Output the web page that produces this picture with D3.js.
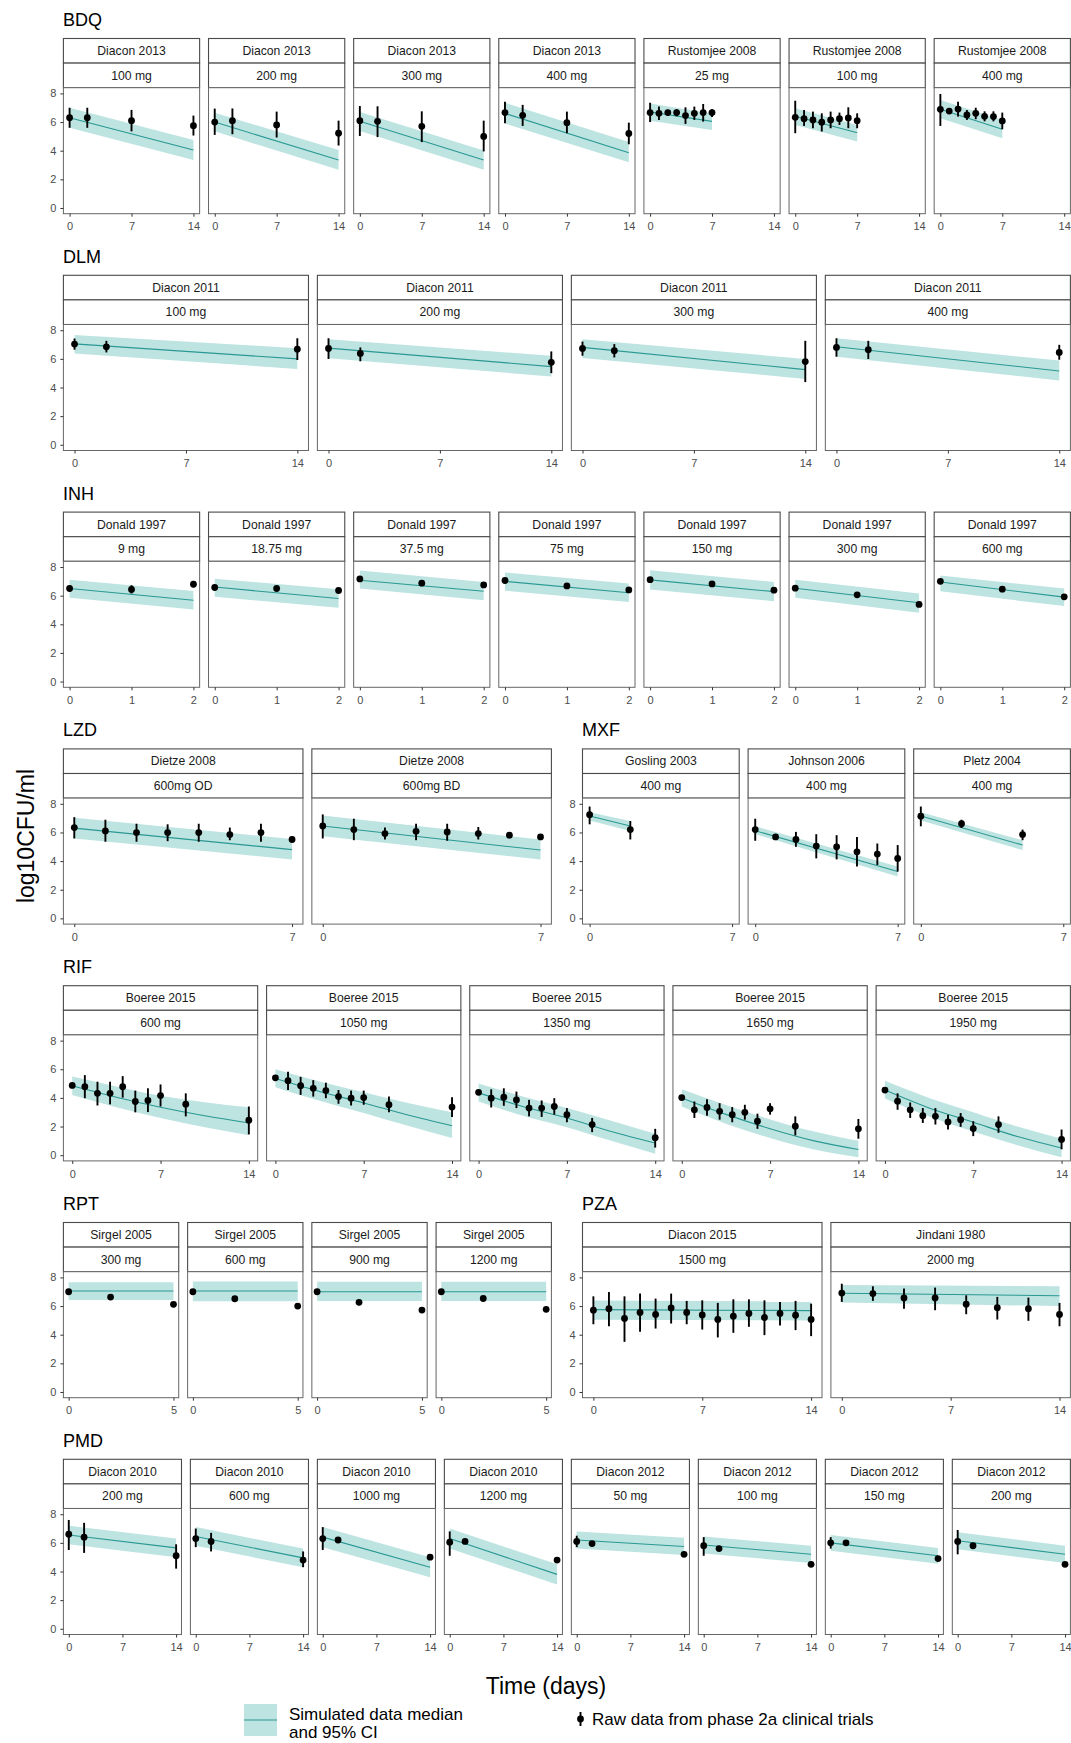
<!DOCTYPE html>
<html>
<head>
<meta charset="utf-8">
<script src="https://cdn.jsdelivr.net/npm/d3@7"></script>
<style>
  body { margin: 0; background: #fff; }
  #main { width: 1071px; height: 1743px; }
  text { font-family: "Liberation Sans", Arial, Helvetica, sans-serif; }
</style>
</head>
<body>
<div id="main"></div>
<script>
// sim rows: [day, median, lower 95%, upper 95%]
// obs rows: [day, mean, lower, upper]

const bdqStudies = ["Diacon 2013", "Diacon 2013", "Diacon 2013", "Diacon 2013", "Rustomjee 2008", "Rustomjee 2008", "Rustomjee 2008"];
const bdqDoses = ["100 mg", "200 mg", "300 mg", "400 mg", "25 mg", "100 mg", "400 mg"];
const bdqTicks = [0, 7, 14];
const bdqSim = [
  [[0, 6.3, 5.6, 7.0], [14, 4.05, 3.35, 4.75]],
  [[0, 6.0, 5.35, 6.65], [14, 3.35, 2.67, 4.05]],
  [[0, 6.05, 5.38, 6.7], [14, 3.35, 2.67, 4.02]],
  [[0, 6.6, 5.9, 7.35], [14, 3.85, 3.2, 4.6]],
  [[0, 6.7, 6.1, 7.3], [7, 6.05, 5.45, 6.6]],
  [[0, 6.4, 5.8, 6.96], [7, 5.25, 4.64, 5.8]],
  [[0, 6.9, 6.26, 7.54], [7, 5.5, 4.87, 6.15]]
];
const bdqObs = [
  [[0, 6.3, 5.6, 7.0], [2, 6.3, 5.6, 7.0], [7, 6.1, 5.35, 6.85], [14, 5.75, 5.06, 6.45]],
  [[0, 6.0, 5.1, 6.94], [2, 6.1, 5.15, 6.95], [7, 5.8, 4.92, 6.73], [14, 5.22, 4.36, 6.1]],
  [[0, 6.1, 5.03, 7.12], [2, 6.05, 4.95, 7.1], [7, 5.7, 4.6, 6.75], [14, 5.0, 3.95, 6.1]],
  [[0, 6.66, 5.92, 7.42], [2, 6.47, 5.73, 7.2], [7, 5.96, 5.22, 6.73], [14, 5.2, 4.45, 5.96]],
  [[0, 6.66, 6.0, 7.35], [1, 6.61, 6.15, 7.08], [2, 6.66, 6.45, 6.85], [3, 6.66, 6.4, 6.9], [4, 6.45, 5.87, 7.03], [5, 6.61, 6.15, 7.08], [6, 6.66, 6.03, 7.26], [7, 6.66, 6.35, 6.9]],
  [[0, 6.33, 5.22, 7.49], [1, 6.24, 5.73, 6.84], [2, 6.15, 5.57, 6.73], [3, 5.99, 5.34, 6.61], [4, 6.15, 5.57, 6.73], [5, 6.24, 5.8, 6.66], [6, 6.29, 5.57, 7.03], [7, 6.1, 5.57, 6.61]],
  [[0, 6.89, 5.73, 7.96], [1, 6.77, 6.6, 6.95], [2, 6.91, 6.38, 7.42], [3, 6.5, 6.15, 6.84], [4, 6.61, 6.2, 7.0], [5, 6.4, 6.05, 6.75], [6, 6.38, 6.05, 6.75], [7, 6.08, 5.5, 6.66]]
];

const dlmStudies = ["Diacon 2011", "Diacon 2011", "Diacon 2011", "Diacon 2011"];
const dlmDoses = ["100 mg", "200 mg", "300 mg", "400 mg"];
const dlmTicks = [0, 7, 14];
const dlmSim = [
  [[0, 7.05, 6.38, 7.67], [14, 6.0, 5.3, 6.75]],
  [[0, 6.75, 6.04, 7.37], [14, 5.46, 4.77, 6.22]],
  [[0, 6.8, 6.06, 7.37], [14, 5.25, 4.6, 5.99]],
  [[0, 6.85, 6.15, 7.44], [14, 5.15, 4.49, 5.88]]
];
const dlmObs = [
  [[0, 7.03, 6.64, 7.42], [2, 6.84, 6.45, 7.26], [14, 6.68, 5.92, 7.44]],
  [[0, 6.73, 5.99, 7.44], [2, 6.38, 5.83, 6.8], [14, 5.76, 5.0, 6.52]],
  [[0, 6.73, 6.22, 7.21], [2, 6.57, 6.1, 7.03], [14, 5.81, 4.38, 7.26]],
  [[0, 6.8, 6.15, 7.44], [2, 6.64, 5.99, 7.26], [14, 6.45, 5.94, 6.98]]
];

const inhStudies = ["Donald 1997", "Donald 1997", "Donald 1997", "Donald 1997", "Donald 1997", "Donald 1997", "Donald 1997"];
const inhDoses = ["9 mg", "18.75 mg", "37.5 mg", "75 mg", "150 mg", "300 mg", "600 mg"];
const inhTicks = [0, 1, 2];
const inhSim = [
  [[0, 6.5, 5.85, 7.12], [2, 5.68, 5.03, 6.33]],
  [[0, 6.6, 5.92, 7.19], [2, 5.8, 5.15, 6.45]],
  [[0, 7.08, 6.5, 7.75], [2, 6.31, 5.68, 6.96]],
  [[0, 7.0, 6.35, 7.62], [2, 6.2, 5.55, 6.85]],
  [[0, 7.1, 6.43, 7.77], [2, 6.28, 5.61, 6.96]],
  [[0, 6.52, 5.85, 7.12], [2, 5.5, 4.8, 6.15]],
  [[0, 6.95, 6.3, 7.4], [2, 5.9, 5.27, 6.5]]
];
const inhObs = [
  [[0, 6.5, 6.4, 6.6], [1, 6.43, 6.15, 6.73], [2, 6.8, 6.57, 7.03]],
  [[0, 6.57, 6.5, 6.65], [1, 6.5, 6.42, 6.58], [2, 6.36, 6.28, 6.44]],
  [[0, 7.17, 7.1, 7.25], [1, 6.87, 6.8, 6.95], [2, 6.75, 6.68, 6.82]],
  [[0, 7.06, 7.0, 7.12], [1, 6.68, 6.6, 6.76], [2, 6.4, 6.33, 6.47]],
  [[0, 7.12, 7.03, 7.2], [1, 6.82, 6.72, 6.92], [2, 6.38, 6.3, 6.46]],
  [[0, 6.52, 6.45, 6.6], [1, 6.06, 6.0, 6.12], [2, 5.39, 5.33, 5.45]],
  [[0, 7.0, 6.93, 7.07], [1, 6.45, 6.38, 6.52], [2, 5.92, 5.86, 5.98]]
];

const lzdStudies = ["Dietze 2008", "Dietze 2008"];
const lzdDoses = ["600mg OD", "600mg BD"];
const lzdTicks = [0, 7];
const lzdSim = [
  [[0, 6.3, 5.58, 7.03], [7, 4.8, 4.12, 5.55]],
  [[0, 6.45, 5.74, 7.19], [7, 4.77, 4.12, 5.5]]
];
const lzdObs = [
  [[0, 6.34, 5.58, 7.07], [1, 6.11, 5.35, 6.89], [2, 5.99, 5.35, 6.61], [3, 5.99, 5.39, 6.57], [4, 5.99, 5.35, 6.61], [5, 5.85, 5.46, 6.34], [6, 5.99, 5.35, 6.61], [7, 5.51, 5.51, 5.51]],
  [[0, 6.45, 5.58, 7.26], [1, 6.2, 5.46, 6.96], [2, 5.92, 5.51, 6.34], [3, 6.08, 5.46, 6.61], [4, 6.04, 5.42, 6.61], [5, 5.92, 5.51, 6.38], [6, 5.81, 5.6, 6.0], [7, 5.69, 5.69, 5.69]]
];

const mxfStudies = ["Gosling 2003", "Johnson 2006", "Pletz 2004"];
const mxfDoses = ["400 mg", "400 mg", "400 mg"];
const mxfTicks = [0, 7];
const mxfSim = [
  [[0, 7.15, 6.84, 7.42], [2, 6.45, 6.11, 6.8]],
  [[0, 6.12, 5.88, 6.43], [7, 3.28, 2.93, 3.62]],
  [[0, 7.15, 6.84, 7.42], [5, 5.12, 4.77, 5.46]]
];
const mxfObs = [
  [[0, 7.24, 6.57, 7.81], [2, 6.2, 5.51, 6.8]],
  [[0, 6.2, 5.42, 6.96], [1, 5.69, 5.6, 5.8], [2, 5.51, 5.0, 6.04], [3, 5.05, 4.19, 5.88], [4, 5.0, 4.12, 5.81], [5, 4.65, 3.62, 5.69], [6, 4.49, 3.73, 5.23], [7, 4.19, 3.27, 5.12]],
  [[0, 7.14, 6.43, 7.81], [2, 6.61, 6.31, 6.89], [5, 5.85, 5.46, 6.2]]
];

const rifStudies = ["Boeree 2015", "Boeree 2015", "Boeree 2015", "Boeree 2015", "Boeree 2015"];
const rifDoses = ["600 mg", "1050 mg", "1350 mg", "1650 mg", "1950 mg"];
const rifTicks = [0, 7, 14];
const rifSim = [
  [[0, 4.85, 4.2, 5.5], [3.5, 4.05, 3.35, 4.8], [7, 3.35, 2.6, 4.15], [10.5, 2.75, 1.95, 3.7], [14, 2.25, 1.4, 3.35]],
  [[0, 5.35, 4.75, 6.0], [3.5, 4.45, 3.8, 5.15], [7, 3.65, 2.95, 4.4], [10.5, 2.8, 2.05, 3.65], [14, 2.05, 1.2, 3.0]],
  [[0, 4.35, 3.75, 5.0], [3.5, 3.4, 2.75, 4.1], [7, 2.6, 1.95, 3.3], [10.5, 1.65, 1.0, 2.4], [14, 0.85, 0.1, 1.5]],
  [[0, 4.0, 3.4, 4.6], [3.5, 2.85, 2.2, 3.5], [7, 1.85, 1.2, 2.5], [10.5, 1.0, 0.4, 1.65], [14, 0.4, -0.15, 1.0]],
  [[0, 4.55, 3.95, 5.2], [3.5, 3.3, 2.7, 4.0], [7, 2.3, 1.65, 3.0], [10.5, 1.3, 0.7, 2.0], [14, 0.5, -0.15, 1.15]]
];
const rifObs = [
  [[0, 4.87, 4.87, 4.87], [1, 4.78, 3.98, 5.59], [2, 4.32, 3.47, 5.13], [3, 4.32, 3.55, 5.13], [4, 4.78, 4.02, 5.52], [5, 3.75, 2.99, 4.51], [6, 3.82, 3.01, 4.67], [7, 4.16, 3.4, 4.94], [9, 3.56, 2.71, 4.32], [14, 2.44, 1.45, 3.4]],
  [[0, 5.4, 5.4, 5.4], [1, 5.2, 4.55, 5.82], [2, 4.85, 4.21, 5.47], [3, 4.67, 4.09, 5.24], [4, 4.51, 3.98, 5.06], [5, 4.09, 3.59, 4.55], [6, 3.98, 3.47, 4.51], [7, 4.02, 3.52, 4.51], [9, 3.52, 2.99, 4.09], [14, 3.36, 2.67, 4.05]],
  [[0, 4.39, 4.39, 4.39], [1, 3.98, 3.33, 4.6], [2, 4.05, 3.45, 4.67], [3, 3.86, 3.29, 4.44], [4, 3.29, 2.71, 3.86], [5, 3.29, 2.67, 3.82], [6, 3.4, 2.83, 3.98], [7, 2.83, 2.3, 3.29], [9, 2.14, 1.61, 2.6], [14, 1.22, 0.53, 1.84]],
  [[0, 4.02, 4.02, 4.02], [1, 3.17, 2.6, 3.75], [2, 3.33, 2.76, 3.91], [3, 3.06, 2.48, 3.63], [4, 2.83, 2.3, 3.36], [5, 2.99, 2.48, 3.52], [6, 2.37, 1.84, 2.9], [7, 3.24, 2.83, 3.63], [9, 2.02, 1.38, 2.71], [14, 1.84, 1.15, 2.53]],
  [[0, 4.55, 4.55, 4.55], [1, 3.77, 3.17, 4.32], [2, 3.17, 2.6, 3.68], [3, 2.76, 2.25, 3.29], [4, 2.71, 2.14, 3.29], [5, 2.32, 1.79, 2.83], [6, 2.48, 1.98, 2.94], [7, 1.86, 1.33, 2.37], [9, 2.14, 1.56, 2.71], [14, 1.1, 0.41, 1.79]]
];

const rptStudies = ["Sirgel 2005", "Sirgel 2005", "Sirgel 2005", "Sirgel 2005"];
const rptDoses = ["300 mg", "600 mg", "900 mg", "1200 mg"];
const rptTicks = [0, 5];
const rptSim = [
  [[0, 7.05, 6.42, 7.67], [5, 7.05, 6.42, 7.67]],
  [[0, 7.05, 6.33, 7.72], [5, 7.05, 6.33, 7.72]],
  [[0, 7.0, 6.35, 7.7], [5, 7.0, 6.35, 7.7]],
  [[0, 7.0, 6.35, 7.7], [5, 7.0, 6.35, 7.7]]
];
const rptObs = [
  [[0, 7.0, 7.0, 7.0], [2, 6.63, 6.63, 6.63], [5, 6.12, 6.12, 6.12]],
  [[0, 7.0, 7.0, 7.0], [2, 6.51, 6.51, 6.51], [5, 6.0, 6.0, 6.0]],
  [[0, 7.0, 7.0, 7.0], [2, 6.26, 6.26, 6.26], [5, 5.72, 5.72, 5.72]],
  [[0, 7.0, 7.0, 7.0], [2, 6.53, 6.53, 6.53], [5, 5.77, 5.77, 5.77]]
];

const pzaStudies = ["Diacon 2015", "Jindani 1980"];
const pzaDoses = ["1500 mg", "2000 mg"];
const pzaTicks = [0, 7, 14];
const pzaSim = [
  [[0, 5.75, 5.05, 6.38], [14, 5.68, 5.0, 6.33]],
  [[0, 6.9, 6.25, 7.47], [14, 6.72, 6.0, 7.38]]
];
const pzaObs = [
  [[0, 5.71, 4.73, 6.68], [1, 5.82, 4.59, 6.98], [2, 5.13, 3.5, 6.68], [3, 5.55, 4.2, 6.87], [4, 5.41, 4.43, 6.52], [5, 5.87, 4.78, 6.87], [6, 5.55, 4.73, 6.36], [7, 5.38, 4.36, 6.4], [8, 5.06, 3.81, 6.22], [9, 5.29, 4.13, 6.47], [10, 5.48, 4.55, 6.47], [11, 5.2, 3.97, 6.4], [12, 5.48, 4.64, 6.29], [13, 5.36, 4.32, 6.36], [14, 5.06, 3.9, 6.17]],
  [[0, 6.91, 6.29, 7.56], [2, 6.87, 6.36, 7.38], [4, 6.57, 5.82, 7.22], [6, 6.57, 5.71, 7.29], [8, 6.13, 5.43, 6.75], [10, 5.89, 5.06, 6.64], [12, 5.82, 4.97, 6.59], [14, 5.41, 4.59, 6.22]]
];

const pmdStudies = ["Diacon 2010", "Diacon 2010", "Diacon 2010", "Diacon 2010", "Diacon 2012", "Diacon 2012", "Diacon 2012", "Diacon 2012"];
const pmdDoses = ["200 mg", "600 mg", "1000 mg", "1200 mg", "50 mg", "100 mg", "150 mg", "200 mg"];
const pmdTicks = [0, 7, 14];
const pmdSim = [
  [[0, 6.55, 5.9, 7.2], [14, 5.65, 5.0, 6.3]],
  [[0, 6.45, 5.8, 7.1], [14, 4.95, 4.3, 5.6]],
  [[0, 6.4, 5.7, 7.1], [14, 4.3, 3.6, 5.0]],
  [[0, 6.3, 5.6, 7.0], [14, 3.8, 3.1, 4.5]],
  [[0, 6.2, 5.6, 6.8], [14, 5.75, 5.15, 6.35]],
  [[0, 5.85, 5.25, 6.45], [14, 5.2, 4.6, 5.8]],
  [[0, 6.0, 5.45, 6.55], [14, 5.1, 4.55, 5.65]],
  [[0, 6.15, 5.55, 6.75], [14, 5.2, 4.6, 5.8]]
];
const pmdObs = [
  [[0, 6.6, 5.5, 7.6], [2, 6.4, 5.3, 7.4], [14, 5.1, 4.2, 5.9]],
  [[0, 6.3, 5.7, 7.0], [2, 6.1, 5.4, 6.7], [14, 4.8, 4.3, 5.4]],
  [[0, 6.3, 5.5, 7.1], [2, 6.2, 6.2, 6.2], [14, 5.0, 5.0, 5.0]],
  [[0, 6.05, 5.1, 6.8], [2, 6.1, 6.1, 6.1], [14, 4.8, 4.8, 4.8]],
  [[0, 6.1, 5.7, 6.5], [2, 5.95, 5.95, 5.95], [14, 5.2, 5.2, 5.2]],
  [[0, 5.8, 5.1, 6.4], [2, 5.6, 5.6, 5.6], [14, 4.5, 4.5, 4.5]],
  [[0, 6.0, 5.6, 6.4], [2, 6.0, 6.0, 6.0], [14, 4.9, 4.9, 4.9]],
  [[0, 6.1, 5.2, 6.9], [2, 5.8, 5.8, 5.8], [14, 4.5, 4.5, 4.5]]
];

const yTicks = [0, 2, 4, 6, 8];

const drugs = {
  BDQ: { studies: bdqStudies, doses: bdqDoses, ticks: bdqTicks, sim: bdqSim, obs: bdqObs },
  DLM: { studies: dlmStudies, doses: dlmDoses, ticks: dlmTicks, sim: dlmSim, obs: dlmObs },
  INH: { studies: inhStudies, doses: inhDoses, ticks: inhTicks, sim: inhSim, obs: inhObs },
  LZD: { studies: lzdStudies, doses: lzdDoses, ticks: lzdTicks, sim: lzdSim, obs: lzdObs },
  MXF: { studies: mxfStudies, doses: mxfDoses, ticks: mxfTicks, sim: mxfSim, obs: mxfObs },
  RIF: { studies: rifStudies, doses: rifDoses, ticks: rifTicks, sim: rifSim, obs: rifObs },
  RPT: { studies: rptStudies, doses: rptDoses, ticks: rptTicks, sim: rptSim, obs: rptObs },
  PZA: { studies: pzaStudies, doses: pzaDoses, ticks: pzaTicks, sim: pzaSim, obs: pzaObs },
  PMD: { studies: pmdStudies, doses: pmdDoses, ticks: pmdTicks, sim: pmdSim, obs: pmdObs }
};

// which drug goes where
const rows = [
  [["BDQ", "full"]],
  [["DLM", "full"]],
  [["INH", "full"]],
  [["LZD", "left"], ["MXF", "right"]],
  [["RIF", "full"]],
  [["RPT", "left"], ["PZA", "right"]],
  [["PMD", "full"]]
];

const W = 1071, H = 1743;
const spans = { full: [63.4, 1070.4], left: [63.4, 551.4], right: [582.5, 1070.4] };
const gap = 8.9, stripH = 24.6, panelH = 126, rowStep = 236.8, firstTop = 38.5;
const bandFill = "#bde4e1", lineCol = "#2a9893";

const svg = d3.select("#main").append("svg")
  .attr("width", W)
  .attr("height", H)
  .style("background", "#fff");

function drawGroup(name, span, top) {
  const d = drugs[name];
  const n = d.studies.length;
  const w = (span[1] - span[0] - (n - 1) * gap) / n;
  const xmax = d.ticks[d.ticks.length - 1];
  const pTop = top + 2 * stripH, pBot = pTop + panelH;

  svg.append("text")
    .attr("x", span[0] - 0.5)
    .attr("y", top - 12.5)
    .attr("font-size", 18)
    .attr("fill", "#000")
    .text(name);

  d.studies.forEach((study, i) => {
    const x0 = span[0] + i * (w + gap);
    const g = svg.append("g");
    const x = d3.scaleLinear().domain([-0.05 * xmax, 1.05 * xmax]).range([x0, x0 + w]);
    const y = d3.scaleLinear().domain([-0.4, 8.4]).range([pBot, pTop]);

    // strips
    [study, d.doses[i]].forEach((lab, k) => {
      g.append("rect")
        .attr("x", x0).attr("y", top + k * stripH)
        .attr("width", w).attr("height", stripH)
        .attr("fill", "#fff").attr("stroke", "#4a4a4a").attr("stroke-width", 1.1);
      g.append("text")
        .attr("x", x0 + w / 2).attr("y", top + k * stripH + stripH / 2 + 4.2)
        .attr("text-anchor", "middle")
        .attr("font-size", 12.2)
        .attr("fill", "#1a1a1a")
        .text(lab);
    });

    // panel
    g.append("rect")
      .attr("x", x0).attr("y", pTop)
      .attr("width", w).attr("height", panelH)
      .attr("fill", "#fff").attr("stroke", "#666").attr("stroke-width", 1);

    const sim = d.sim[i];
    g.append("path").datum(sim)
      .attr("d", d3.area().curve(d3.curveMonotoneX)
        .x(s => x(s[0])).y0(s => y(s[2])).y1(s => y(s[3])))
      .attr("fill", bandFill);
    g.append("path").datum(sim)
      .attr("d", d3.line().curve(d3.curveMonotoneX)
        .x(s => x(s[0])).y(s => y(s[1])))
      .attr("fill", "none").attr("stroke", lineCol).attr("stroke-width", 1.1);

    const obs = d.obs[i];
    g.selectAll(".err").data(obs.filter(o => o[3] > o[2])).enter().append("line")
      .attr("x1", o => x(o[0])).attr("x2", o => x(o[0]))
      .attr("y1", o => y(o[2])).attr("y2", o => y(o[3]))
      .attr("stroke", "#000").attr("stroke-width", 1.9);
    g.selectAll(".pt").data(obs).enter().append("circle")
      .attr("cx", o => x(o[0])).attr("cy", o => y(o[1]))
      .attr("r", 3.4).attr("fill", "#000");

    // axes
    const xa = g.append("g")
      .attr("transform", `translate(0,${pBot})`)
      .call(d3.axisBottom(x).tickValues(d.ticks).tickFormat(d3.format("d"))
        .tickSize(3).tickPadding(6).tickSizeOuter(0));
    styleAxis(xa);
    if (i === 0) {
      const ya = g.append("g")
        .attr("transform", `translate(${x0},0)`)
        .call(d3.axisLeft(y).tickValues(yTicks).tickFormat(d3.format("d"))
          .tickSize(3).tickPadding(4).tickSizeOuter(0));
      styleAxis(ya);
    }
  });
}

function styleAxis(a) {
  a.select(".domain").remove();
  a.selectAll(".tick line").attr("stroke", "#333");
  a.selectAll(".tick text")
    .attr("fill", "#4d4d4d")
    .attr("font-size", 11)
    .attr("font-family", "Liberation Sans, Arial, sans-serif");
}

rows.forEach((row, r) => {
  const top = firstTop + r * rowStep;
  row.forEach(([name, where]) => drawGroup(name, spans[where], top));
});

// axis titles
svg.append("text")
  .attr("transform", "translate(34,836) rotate(-90)")
  .attr("text-anchor", "middle")
  .attr("font-size", 23)
  .text("log10CFU/ml");

svg.append("text")
  .attr("x", 546).attr("y", 1694)
  .attr("text-anchor", "middle")
  .attr("font-size", 23)
  .text("Time (days)");

// legend
const lg = svg.append("g");
lg.append("rect")
  .attr("x", 244).attr("y", 1704).attr("width", 33).attr("height", 32)
  .attr("fill", bandFill);
lg.append("line")
  .attr("x1", 244).attr("x2", 277).attr("y1", 1720).attr("y2", 1720)
  .attr("stroke", lineCol).attr("stroke-width", 1.1);
lg.append("text").attr("x", 289).attr("y", 1720).attr("font-size", 17).text("Simulated data median");
lg.append("text").attr("x", 289).attr("y", 1738).attr("font-size", 17).text("and 95% CI");

lg.append("line")
  .attr("x1", 580.5).attr("x2", 580.5).attr("y1", 1712).attr("y2", 1726)
  .attr("stroke", "#000").attr("stroke-width", 1.9);
lg.append("circle").attr("cx", 580.5).attr("cy", 1719).attr("r", 3.4).attr("fill", "#000");
lg.append("text").attr("x", 592).attr("y", 1725).attr("font-size", 17).text("Raw data from phase 2a clinical trials");
</script>
</body>
</html>
